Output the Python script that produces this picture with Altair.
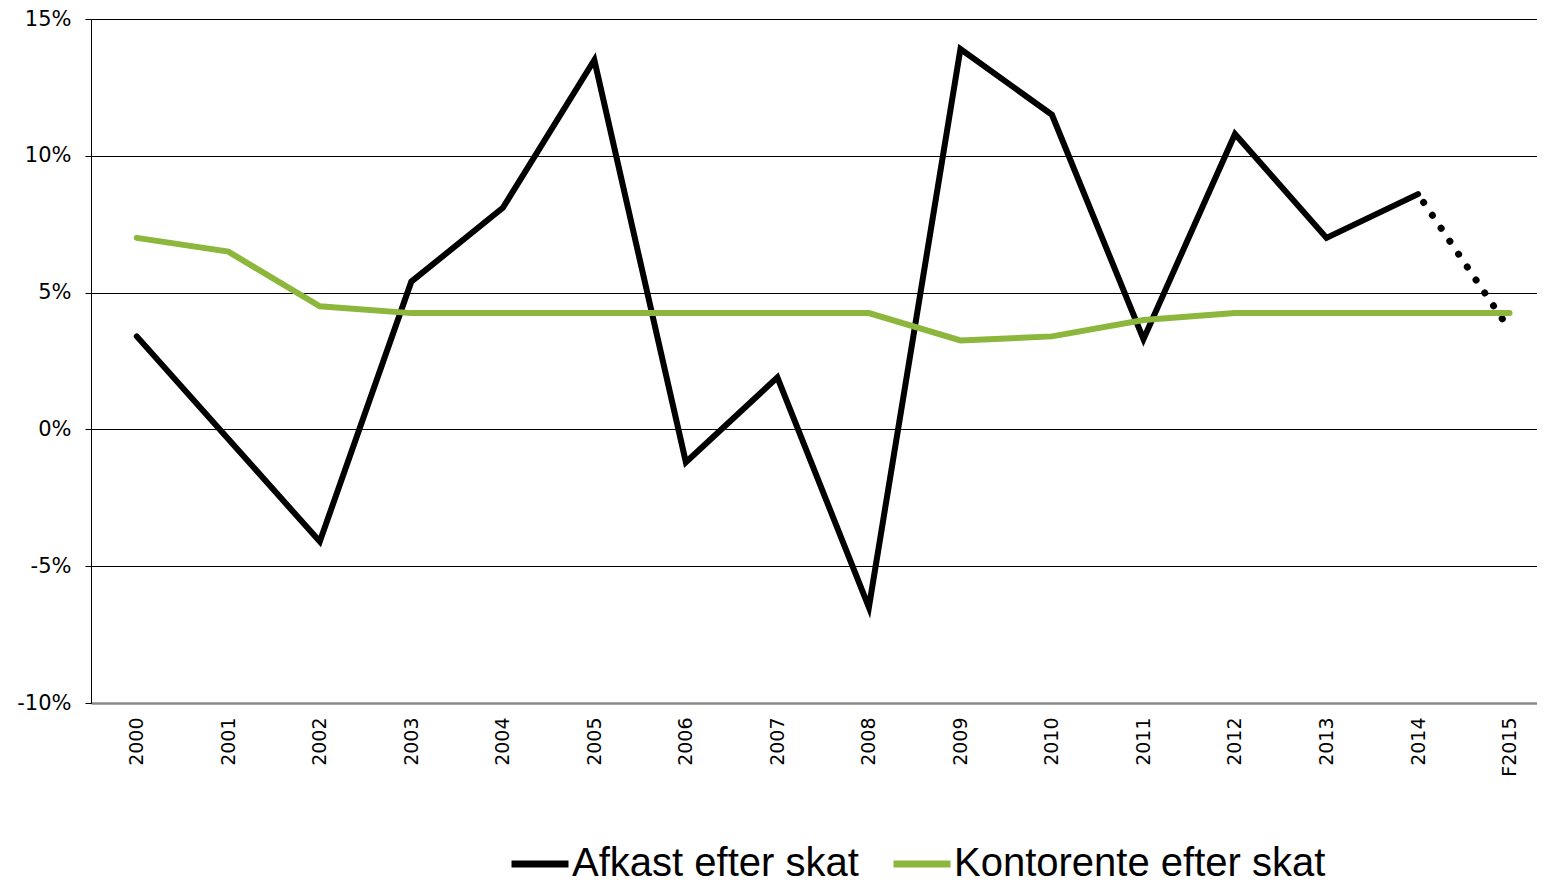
import altair as alt
import pandas as pd

years = ["2000", "2001", "2002", "2003", "2004", "2005", "2006", "2007",
         "2008", "2009", "2010", "2011", "2012", "2013", "2014", "F2015"]
afkast = [3.4, -0.35, -4.1, 5.4, 8.1, 13.5, -1.2, 1.9,
          -6.5, 13.9, 11.5, 3.3, 10.8, 7.0, 8.6, 3.65]
kontorente = [7.0, 6.5, 4.5, 4.25, 4.25, 4.25, 4.25, 4.25,
              4.25, 3.25, 3.4, 4.0, 4.25, 4.25, 4.25, 4.25]
series_names = ["Afkast efter skat", "Kontorente efter skat"]
series_colors = ["#000000", "#8cb63c"]
y_ticks = [-10, -5, 0, 5, 10, 15]

idx = list(range(len(years)))
df_a = pd.DataFrame({"i": idx[:-1], "year": years[:-1], "value": afkast[:-1], "series": series_names[0]})
df_a_f = pd.DataFrame({"i": idx[-2:], "year": years[-2:], "value": afkast[-2:], "series": series_names[0]})
df_k = pd.DataFrame({"i": idx, "year": years, "value": kontorente, "series": series_names[1]})

year_list_expr = "[" + ",".join("'" + y + "'" for y in years) + "][datum.value]"

x_enc = alt.X("i:Q", title=None,
              scale=alt.Scale(domain=[-0.5, 15.3], nice=False, zero=False),
              axis=alt.Axis(values=idx, labelExpr=year_list_expr,
                            labelAngle=270, labelAlign="right", labelBaseline="middle",
                            labelFont="DejaVu Sans", labelFontSize=19, labelColor="#000",
                            labelPadding=14, labelFlush=False, labelOverlap=False,
                            ticks=False, domainColor="#888888",
                            domainWidth=2.5, grid=False))
y_enc = alt.Y("value:Q", title=None,
              scale=alt.Scale(domain=[-10, 15], nice=False, zero=False),
              axis=alt.Axis(values=y_ticks, labelExpr="datum.value + '%'",
                            labelFont="DejaVu Sans", labelFontSize=21, labelColor="#000",
                            labelPadding=14, tickColor="#000", tickSize=6, tickWidth=1,
                            domainColor="#000", domainWidth=1,
                            grid=True, gridColor="#000", gridWidth=1))
color_enc = alt.Color("series:N", title=None,
                      scale=alt.Scale(domain=series_names, range=series_colors),
                      legend=alt.Legend(orient="none", direction="horizontal",
                                        legendX=417, legendY=813,
                                        symbolType="stroke", symbolSize=3249,
                                        symbolStrokeWidth=7, labelOffset=0,
                                        columnPadding=20,
                                        labelFont="Liberation Sans",
                                        labelFontSize=40, labelColor="#000",
                                        labelLimit=0))

black = alt.Chart(df_a).mark_line(strokeWidth=6, strokeCap="round", strokeJoin="miter").encode(
    x=x_enc, y=y_enc, color=color_enc)
dotted = alt.Chart(df_a_f).mark_line(strokeWidth=7, strokeCap="round",
                                      strokeDash=[0.1, 15.5], strokeDashOffset=-10).encode(
    x=x_enc, y=y_enc, color=alt.value("#000000"))
green = alt.Chart(df_k).mark_line(strokeWidth=6, strokeCap="round", strokeJoin="miter").encode(
    x=x_enc, y=y_enc, color=color_enc)

chart = alt.layer(black, dotted, green).properties(
    width=1446, height=684,
    autosize=alt.AutoSizeParams(type="none"),
    padding={"left": 83, "top": 11, "right": 0, "bottom": 181},
).configure_view(stroke=None).configure(background="white")

chart.save("out.html", embed_options={"renderer": "svg", "actions": False})
